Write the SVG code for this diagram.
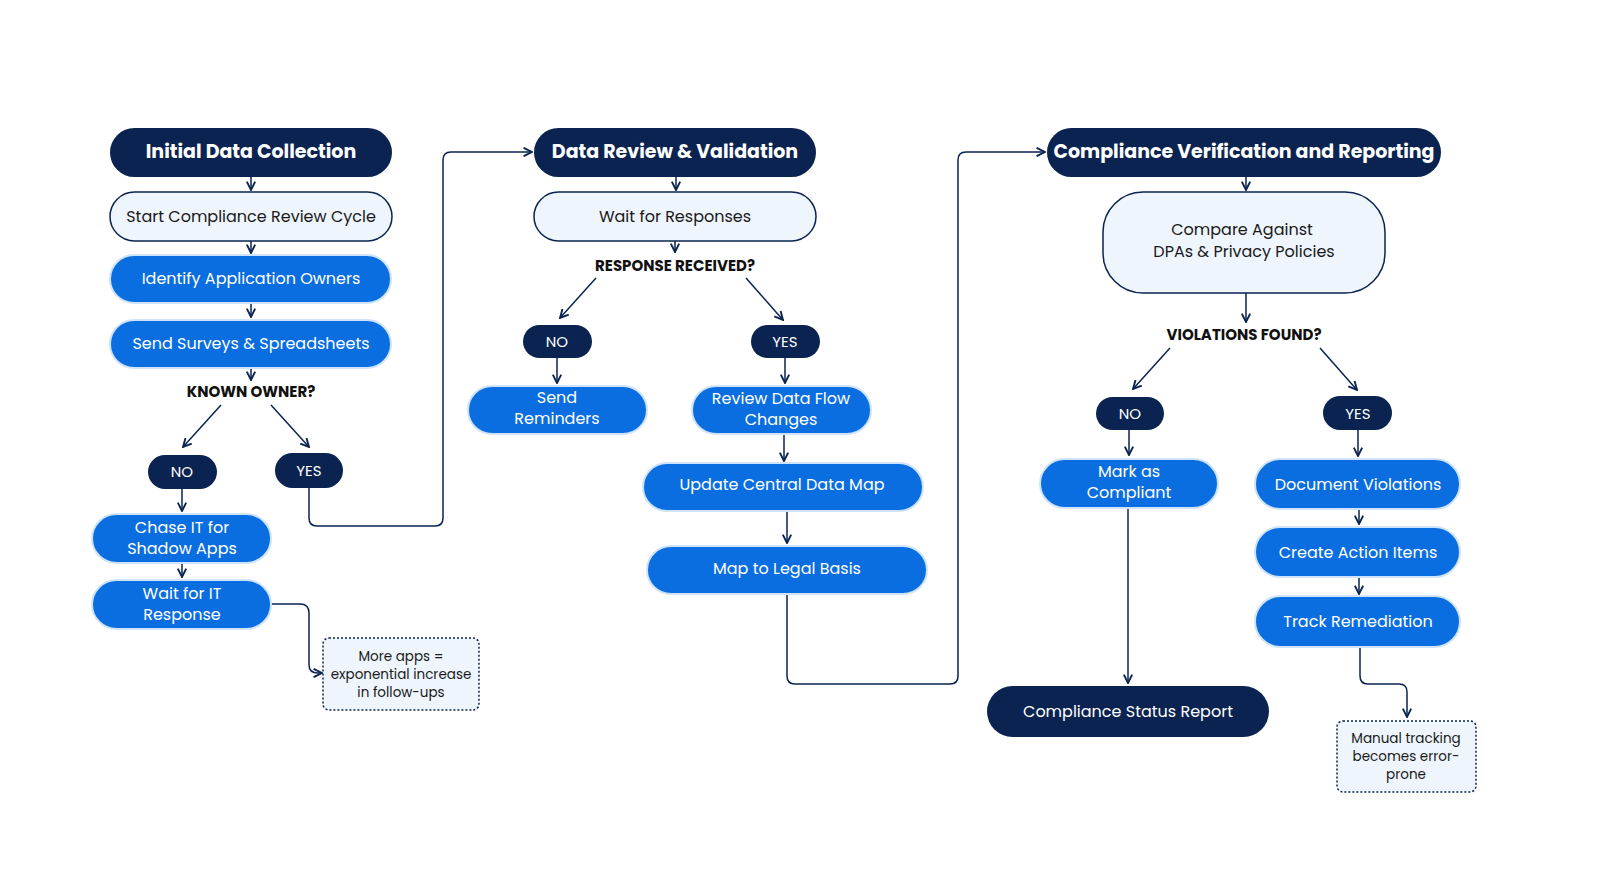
<svg xmlns="http://www.w3.org/2000/svg" width="1600" height="891" viewBox="0 0 1600 891">
<defs>
<marker id="a" viewBox="0 0 10 10" refX="9" refY="5" markerWidth="7" markerHeight="7" orient="auto-start-reverse"><path d="M1,1 L9,5 L1,9" fill="none" stroke="#0b2350" stroke-width="1.8"/></marker>
<style>
text{font-family:Poppins,"Open Sans","Liberation Sans",sans-serif;text-anchor:middle;dominant-baseline:central}
.h rect{fill:#0b2350}
.h text{fill:#fff;font-weight:700;font-size:19px}
.l rect{fill:#eef5fd;stroke:#0b2350;stroke-width:1.5}
.l text{fill:#1a1a1a;font-size:16px}
.b rect{fill:#0a6ee0;stroke:#cfe3fb;stroke-width:2}
.b text{fill:#fff;font-size:16px}
.p rect{fill:#0b2350}
.p text{fill:#fff;font-size:15px}
.d text{fill:#111;font-weight:700;font-size:15px}
.n rect{fill:#eef5fd;stroke:#0b2350;stroke-width:1.5;stroke-dasharray:2 2}
.n text{fill:#1a1a1a;font-size:13.5px}
.c path{fill:none;stroke:#0b2350;stroke-width:1.5;marker-end:url(#a)}
</style>
</defs>
<rect width="1600" height="891" fill="#fff"/>
<g class="c">
<path d="M251,177V190"/><path d="M251,241V253"/><path d="M251,303V317"/><path d="M251,368V380"/>
<path d="M221,405L183,447"/><path d="M271,405L309,447"/>
<path d="M182,489V511"/><path d="M182,563V577"/>
<path d="M271,604H300Q309,604 309,613V665Q309,673 318,673H322"/>
<path d="M309,488V518Q309,526 317,526H435Q443,526 443,518V160Q443,152 451,152H532"/>
<path d="M676,177V190"/><path d="M675,241V252"/>
<path d="M596,278L560,318"/><path d="M746,278L783,320"/>
<path d="M557,358V383"/><path d="M785,358V383"/><path d="M784,433V461"/><path d="M787,512V543"/>
<path d="M787,594V676Q787,684 795,684H950Q958,684 958,676V160Q958,152 966,152H1045"/>
<path d="M1246,177V190"/><path d="M1246,293V322"/>
<path d="M1170,348L1133,389"/><path d="M1320,348L1357,390"/>
<path d="M1129,430V455"/><path d="M1358,430V456"/>
<path d="M1128,508V683"/>
<path d="M1359,509V524"/><path d="M1359,577V594"/>
<path d="M1360,647V676Q1360,684 1368,684H1399Q1407,684 1407,692V717"/>
</g>
<g id="h1" class="h"><rect x="110" y="128" width="282" height="49" rx="24.5"/><text x="251" y="151">Initial Data Collection</text></g>
<g id="start" class="l"><rect x="110" y="192" width="282" height="49" rx="24.5"/><text x="251" y="216">Start Compliance Review Cycle</text></g>
<g id="ident" class="b"><rect x="110" y="255" width="281" height="48" rx="24"/><text x="251" y="278">Identify Application Owners</text></g>
<g id="send" class="b"><rect x="110" y="320" width="281" height="48" rx="24"/><text x="251" y="343">Send Surveys &amp; Spreadsheets</text></g>
<g id="known" class="d"><text x="251" y="391">KNOWN OWNER?</text></g>
<g id="no1" class="p"><rect x="148" y="455" width="69" height="34" rx="17"/><text x="182" y="471">NO</text></g>
<g id="yes1" class="p"><rect x="275" y="453" width="68" height="35" rx="17.5"/><text x="309" y="470">YES</text></g>
<g id="chase" class="b"><rect x="92" y="514" width="179" height="49" rx="24.5"/><text x="182" y="527">Chase IT for</text><text x="182" y="548">Shadow Apps</text></g>
<g id="waitit" class="b"><rect x="92" y="580" width="179" height="49" rx="24.5"/><text x="182" y="593">Wait for IT</text><text x="182" y="614">Response</text></g>
<g id="note1" class="n"><rect x="323" y="638" width="156" height="72" rx="6"/><text x="401" y="656">More apps =</text><text x="401" y="674">exponential increase</text><text x="401" y="692">in follow-ups</text></g>
<g id="h2" class="h"><rect x="534" y="128" width="282" height="49" rx="24.5"/><text x="675" y="151">Data Review &amp; Validation</text></g>
<g id="waitr" class="l"><rect x="534" y="192" width="282" height="49" rx="24.5"/><text x="675" y="216">Wait for Responses</text></g>
<g id="resp" class="d"><text x="675" y="265">RESPONSE RECEIVED?</text></g>
<g id="no2" class="p"><rect x="523" y="325" width="69" height="33" rx="16.5"/><text x="557" y="341">NO</text></g>
<g id="yes2" class="p"><rect x="751" y="325" width="69" height="33" rx="16.5"/><text x="785" y="341">YES</text></g>
<g id="remind" class="b"><rect x="468" y="386" width="179" height="48" rx="24"/><text x="557" y="397">Send</text><text x="557" y="418">Reminders</text></g>
<g id="review" class="b"><rect x="692" y="386" width="179" height="48" rx="24"/><text x="781" y="398">Review Data Flow</text><text x="781" y="419">Changes</text></g>
<g id="update" class="b"><rect x="643" y="463" width="280" height="48" rx="24"/><text x="782" y="484">Update Central Data Map</text></g>
<g id="legal" class="b"><rect x="647" y="546" width="280" height="48" rx="24"/><text x="787" y="568">Map to Legal Basis</text></g>
<g id="h3" class="h"><rect x="1047" y="128" width="394" height="49" rx="24.5"/><text x="1244" y="151">Compliance Verification and Reporting</text></g>
<g id="compare" class="l"><rect x="1103" y="192" width="282" height="101" rx="40"/><text x="1242" y="229">Compare Against</text><text x="1244" y="251">DPAs &amp; Privacy Policies</text></g>
<g id="viol" class="d"><text x="1244" y="334">VIOLATIONS FOUND?</text></g>
<g id="no3" class="p"><rect x="1096" y="397" width="68" height="33" rx="16.5"/><text x="1130" y="413">NO</text></g>
<g id="yes3" class="p"><rect x="1323" y="396" width="69" height="34" rx="17"/><text x="1358" y="413">YES</text></g>
<g id="mark" class="b"><rect x="1040" y="459" width="178" height="49" rx="24.5"/><text x="1129" y="471">Mark as</text><text x="1129" y="492">Compliant</text></g>
<g id="report" class="p"><rect x="987" y="686" width="282" height="51" rx="25.5"/><text x="1128" y="711" style="font-size:16px">Compliance Status Report</text></g>
<g id="docv" class="b"><rect x="1255" y="459" width="205" height="50" rx="25"/><text x="1358" y="484">Document Violations</text></g>
<g id="create" class="b"><rect x="1255" y="527" width="205" height="50" rx="25"/><text x="1358" y="552">Create Action Items</text></g>
<g id="track" class="b"><rect x="1255" y="596" width="205" height="51" rx="25.5"/><text x="1358" y="621">Track Remediation</text></g>
<g id="note2" class="n"><rect x="1337" y="721" width="139" height="71" rx="6"/><text x="1406" y="738">Manual tracking</text><text x="1406" y="756">becomes error-</text><text x="1406" y="774">prone</text></g>
</svg>
